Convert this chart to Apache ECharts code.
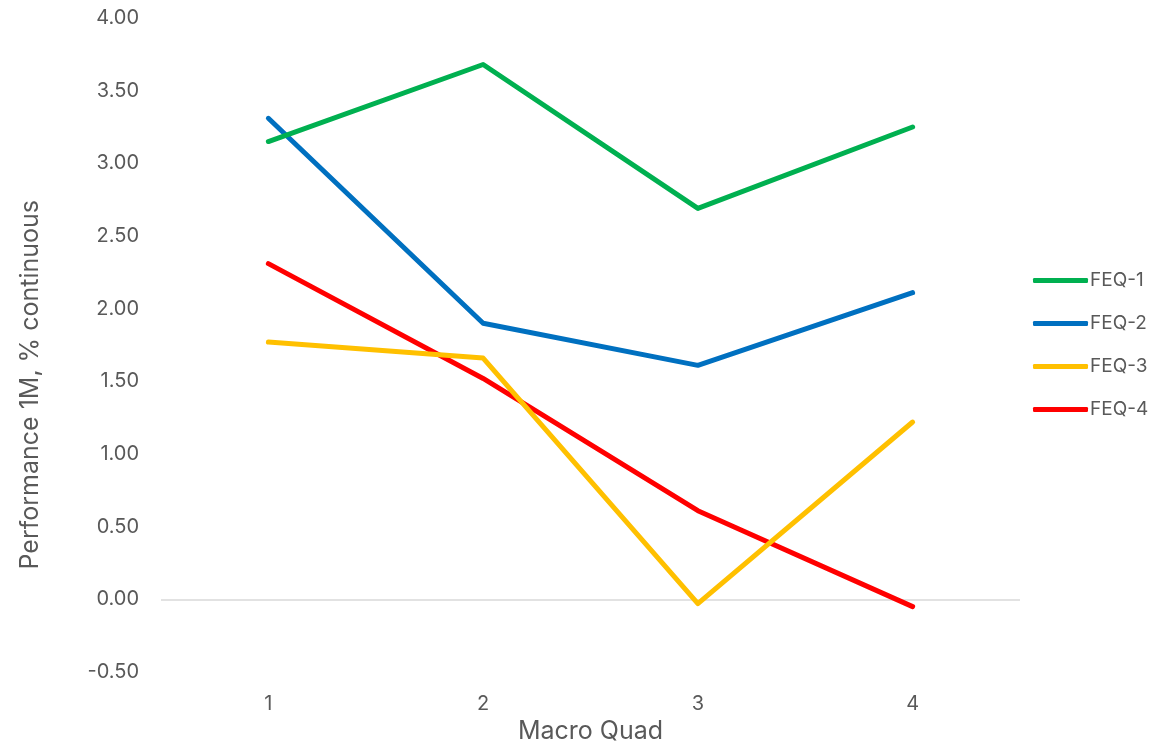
<!DOCTYPE html>
<html>
<head>
<meta charset="utf-8">
<script src="https://cdn.jsdelivr.net/npm/echarts@6/dist/echarts.min.js"></script>
<style>
  html, body { margin: 0; padding: 0; background: #fff; }
  #chart { width: 1173px; height: 741px; }
</style>
</head>
<body>
<div id="chart"></div>
<script>
const categories = ['1', '2', '3', '4'];
const seriesNames = ['FEQ-1', 'FEQ-2', 'FEQ-3', 'FEQ-4'];
const feq1 = [3.15, 3.68, 2.69, 3.25];
const feq2 = [3.31, 1.90, 1.61, 2.11];
const feq3 = [1.77, 1.66, -0.03, 1.22];
const feq4 = [2.31, 1.52, 0.61, -0.05];
const colors = ['#00b050', '#0070c0', '#ffc000', '#ff0000'];

const textColor = '#595959';
const font = 'Inter';

const chart = echarts.init(document.getElementById('chart'));

const lineSeries = [feq1, feq2, feq3, feq4].map(function (vals, i) {
  const s = {
    name: seriesNames[i],
    type: 'line',
    data: vals,
    symbol: 'none',
    color: colors[i],
    lineStyle: { width: 5, cap: 'round', join: 'round' },
    z: 10 - i,
  };
  // zero line drawn under the lines
  if (i === 0) {
    s.markLine = {
      silent: true,
      symbol: 'none',
      label: { show: false },
      lineStyle: { color: '#d9d9d9', width: 1.5, type: 'solid' },
      data: [{ yAxis: 0 }],
      z: 1,
    };
  }
  return s;
});

const options = {
  animation: false,
  textStyle: { fontFamily: font, color: textColor },
  grid: { left: 161, right: 153, top: 18, bottom: 69, outerBoundsMode: 'none' },
  legend: {
    orient: 'vertical',
    left: 1033,
    top: 271,
    padding: 0,
    icon: 'roundRect',
    itemWidth: 55,
    itemHeight: 5,
    itemGap: 24,
    data: seriesNames,
    textStyle: { fontFamily: font, fontSize: 19, color: textColor, padding: [0, 0, 0, -3] },
  },
  xAxis: {
    type: 'category',
    data: categories,
    boundaryGap: true,
    axisLine: { show: false, onZero: false },
    axisTick: { show: false },
    axisLabel: { margin: 22, fontSize: 20, color: textColor, fontFamily: font },
    name: 'Macro Quad',
    nameLocation: 'middle',
    nameGap: 42,
    nameTextStyle: { fontSize: 25, color: textColor, fontFamily: font },
  },
  yAxis: {
    type: 'value',
    min: -0.5,
    max: 4,
    interval: 0.5,
    axisLine: { show: false },
    axisTick: { show: false },
    splitLine: { show: false },
    axisLabel: {
      margin: 22,
      fontSize: 20,
      color: textColor,
      fontFamily: font,
      formatter: function (v) { return v.toFixed(2); },
    },
  },
  graphic: [
    {
      type: 'text',
      left: 18,
      top: 200,
      rotation: Math.PI / 2,
      style: {
        text: 'Performance 1M, % continuous',
        fontSize: 25,
        fontFamily: font,
        fill: textColor,
      },
    },
  ],
  series: lineSeries,
};

options && chart.setOption(options);
</script>
</body>
</html>
